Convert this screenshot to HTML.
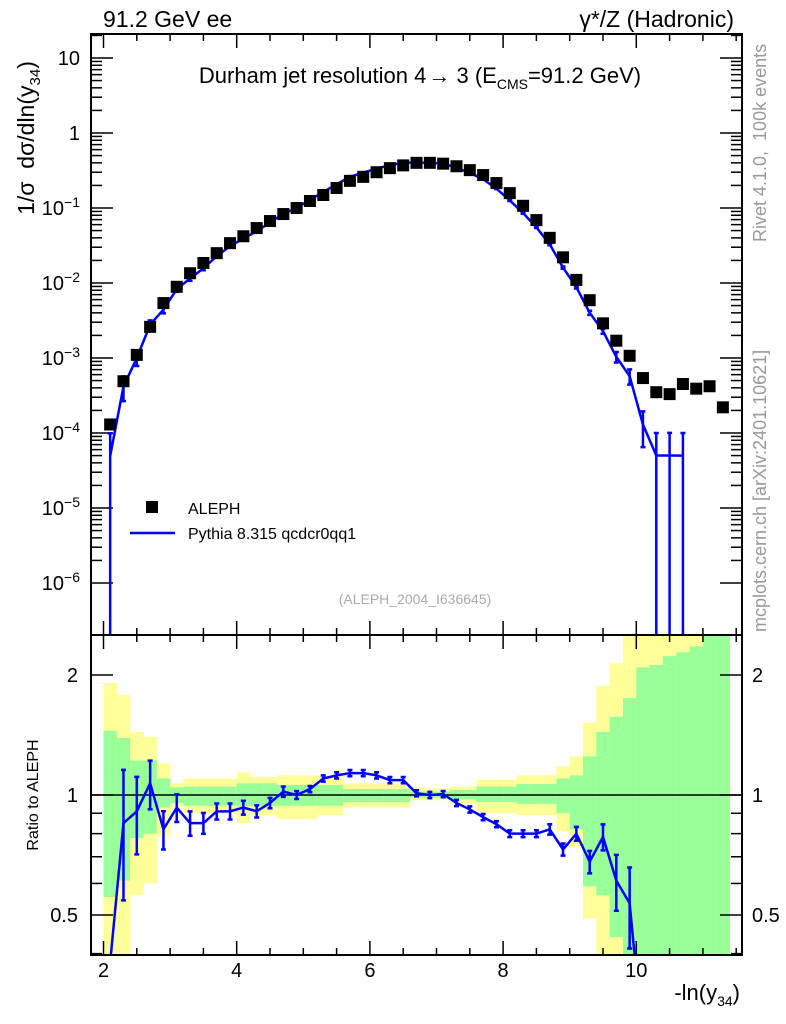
<!DOCTYPE html>
<html><head><meta charset="utf-8"><style>
html,body{margin:0;padding:0;background:#fff;overflow:hidden;width:786px;height:1024px;}
svg{display:block;font-family:"Liberation Sans",sans-serif;}
</style></head><body>
<svg id="chart" xmlns="http://www.w3.org/2000/svg" width="786" height="1024" viewBox="0 0 786 1024">
<defs>
<clipPath id="clipMain"><rect x="91" y="34" width="651" height="601"/></clipPath>
<clipPath id="clipRatio"><rect x="91" y="635" width="651" height="320"/></clipPath>
</defs>
<g id="bands" clip-path="url(#clipRatio)"></g>
<g id="grid"></g>
<g id="marks"></g>
<rect x="91" y="34" width="651" height="601" fill="none" stroke="#000" stroke-width="2"/>
<rect x="91" y="635" width="651" height="320" fill="none" stroke="#000" stroke-width="2"/>
<text x="103" y="27" font-size="23">91.2 GeV ee</text>
<text x="734" y="27" font-size="23" text-anchor="end">γ*/Z (Hadronic)</text>
<text x="420" y="83" font-size="22" text-anchor="middle">Durham jet resolution 4<tspan dx="2">→</tspan>  3 (E<tspan font-size="14" dy="6">CMS</tspan><tspan dy="-6">=91.2 GeV)</tspan></text>
<text transform="translate(34,138) rotate(-90)" font-size="23" text-anchor="middle" xml:space="preserve">1/σ  dσ/dln(y<tspan font-size="15" dy="6">34</tspan><tspan dy="-6">)</tspan></text>
<text transform="translate(38,795) rotate(-90)" font-size="16" text-anchor="middle">Ratio to ALEPH</text>
<text x="740" y="1000" font-size="22" text-anchor="end">-ln(y<tspan font-size="14" dy="6">34</tspan><tspan dy="-6">)</tspan></text>
<text transform="translate(766,242) rotate(-90)" font-size="18" fill="#999" xml:space="preserve">Rivet 4.1.0,  100k events</text>
<text transform="translate(766,632) rotate(-90)" font-size="18" fill="#999">mcplots.cern.ch [arXiv:2401.10621]</text>
<text x="415" y="604" font-size="14" fill="#aaa" text-anchor="middle">(ALEPH_2004_I636645)</text>
<g>
<rect x="146" y="501" width="12" height="12" fill="#000"/>
<text x="188" y="514" font-size="16">ALEPH</text>
<line x1="130" y1="533" x2="175" y2="533" stroke="#00f" stroke-width="2.5"/>
<text x="188" y="539" font-size="16">Pythia 8.315 qcdcr0qq1</text>
</g>
</svg>
<script>
const binCenters = [2.1,2.3,2.5,2.7,2.9,3.1,3.3,3.5,3.7,3.9,4.1,4.3,4.5,4.7,4.9,5.1,5.3,5.5,5.7,5.9,6.1,6.3,6.5,6.7,6.9,7.1,7.3,7.5,7.7,7.9,8.1,8.3,8.5,8.7,8.9,9.1,9.3,9.5,9.7,9.9,10.1,10.3,10.5,10.7,10.9,11.1,11.3];
const dataValues = [1.3e-4,4.9e-4,1.1e-3,2.6e-3,5.4e-3,8.9e-3,1.35e-2,1.85e-2,2.5e-2,3.4e-2,4.2e-2,5.4e-2,6.7e-2,8.3e-2,0.1,0.124,0.149,0.185,0.23,0.26,0.30,0.34,0.37,0.40,0.40,0.39,0.36,0.32,0.275,0.215,0.158,0.107,0.069,0.04,0.022,0.011,5.9e-3,2.9e-3,1.7e-3,1.07e-3,5.4e-4,3.5e-4,3.3e-4,4.5e-4,3.9e-4,4.2e-4,2.2e-4];
const mcRatio = [0.38,0.85,0.91,1.07,0.82,0.93,0.85,0.85,0.91,0.91,0.93,0.91,0.955,1.02,1.0,1.035,1.10,1.12,1.135,1.135,1.12,1.09,1.09,1.01,1.0,1.005,0.955,0.92,0.88,0.845,0.80,0.80,0.80,0.82,0.73,0.80,0.68,0.785,0.61,0.535,0.24,0.143,0.152,0.111,null,null,null];
const mcRelErr = [1.0,0.36,0.22,0.14,0.11,0.08,0.07,0.06,0.046,0.046,0.04,0.035,0.03,0.03,0.023,0.018,0.018,0.018,0.018,0.018,0.018,0.018,0.018,0.018,0.018,0.018,0.018,0.018,0.018,0.018,0.02,0.02,0.02,0.03,0.035,0.04,0.065,0.075,0.16,0.23,0.5,1,1,1,0,0,0];
const greenHi = [1.45,1.39,1.22,1.22,1.10,1.045,1.05,1.05,1.05,1.05,1.07,1.07,1.07,1.06,1.06,1.06,1.06,1.06,1.035,1.035,1.035,1.035,1.035,1.02,1.02,1.02,1.03,1.03,1.05,1.05,1.05,1.065,1.065,1.065,1.10,1.12,1.25,1.44,1.57,1.75,2.09,2.12,2.23,2.28,2.36,3,3];
const greenLo = [0.555,0.61,0.78,0.80,0.93,0.955,0.94,0.94,0.94,0.94,0.94,0.94,0.94,0.94,0.94,0.94,0.94,0.94,0.96,0.96,0.96,0.96,0.96,0.985,0.985,0.985,0.975,0.975,0.96,0.96,0.96,0.95,0.95,0.95,0.90,0.82,0.59,0.56,0.44,0.3,0.3,0.3,0.3,0.3,0.3,0.3,0.3];
const yellowHi = [1.91,1.78,1.44,1.40,1.20,1.07,1.10,1.10,1.10,1.10,1.14,1.11,1.11,1.12,1.12,1.12,1.12,1.12,1.07,1.07,1.07,1.07,1.07,1.04,1.04,1.04,1.05,1.05,1.09,1.09,1.09,1.12,1.12,1.12,1.18,1.25,1.52,1.88,2.14,3,3,3,3,3,3,3,3];
const yellowLo = [0.3,0.35,0.56,0.60,0.79,0.93,0.90,0.90,0.90,0.90,0.85,0.89,0.89,0.87,0.87,0.87,0.89,0.89,0.93,0.93,0.93,0.93,0.93,0.97,0.97,0.97,0.95,0.95,0.90,0.90,0.90,0.89,0.89,0.89,0.81,0.74,0.49,0.3,0.3,0.3,0.3,0.3,0.3,0.3,0.3,0.3,0.3];
const xTicks = [2,4,6,8,10];
const yDecades = [-6,-5,-4,-3,-2,-1,0,1];
const ratioTicks = [0.5,1,2];

const NS = "http://www.w3.org/2000/svg";
const X = v => 103.5 + (v - 2) * 66.6;
const Y = v => 133 - 75 * Math.log10(v);
const R = v => 795 - 120 * Math.log2(v);
const BW = 0.2;
const RMIN = 0.397, RMAX = 2.52;
function mk(tag, attrs, parent){const e=document.createElementNS(NS,tag);for(const k in attrs)e.setAttribute(k,attrs[k]);parent.appendChild(e);return e;}
const bandsG = document.getElementById('bands'), gridG = document.getElementById('grid'), marksG = document.getElementById('marks');

binCenters.forEach((c,i)=>{
  const x0=X(c-BW/2), w=X(c+BW/2)-x0+0.3;
  let r=mk('rect',{x:x0,y:R(yellowHi[i]),width:w,height:R(yellowLo[i])-R(yellowHi[i]),fill:'#ffff99'},bandsG);
  
  
  r=mk('rect',{x:x0,y:R(greenHi[i]),width:w,height:R(greenLo[i])-R(greenHi[i]),fill:'#99ff99'},bandsG);
  
  
});

for(let v=2;v<=11.5;v+=0.5){
  const major = Math.abs(v-Math.round(v/2)*2)<1e-6;
  const L = major?14:7;
  [[34,1],[635,-1],[635,1],[955,-1]].forEach(([y0,d])=>{
    const t=mk('line',{x1:X(v),x2:X(v),y1:y0,y2:y0+d*L,stroke:'#000','stroke-width':1.5},gridG);
    
    
  });
}
xTicks.forEach(v=>{
  const t=mk('text',{x:X(v),y:977,'font-size':20,'text-anchor':'middle'},gridG);
  t.textContent=v;
  
  
});
yDecades.forEach(d=>{
  for(let m=1;m<10;m++){
    const v=m*Math.pow(10,d); const y=Y(v);
    if(y<35||y>634) continue;
    const L=m===1?22:11;
    [[91,1],[742,-1]].forEach(([x0,s])=>{
      const t=mk('line',{x1:x0,x2:x0+s*L,y1:y,y2:y,stroke:'#000','stroke-width':1.5},gridG);
      
      
    });
  }
  const t=mk('text',{x:80,y:Y(Math.pow(10,d))+7,'font-size':20,'text-anchor':'end'},gridG);
  if(d===0) t.textContent='1'; else if(d===1) t.textContent='10';
  else { t.textContent='10'; const s=mk('tspan',{dy:-8,'font-size':14},t); s.textContent='−'+(-d); }
  
  
});
[0.4,0.5,0.6,0.7,0.8,0.9,1,2].forEach(v=>{
  const major=ratioTicks.includes(v); const L=major?22:11;
  [[91,1],[742,-1]].forEach(([x0,s])=>{
    const t=mk('line',{x1:x0,x2:x0+s*L,y1:R(v),y2:R(v),stroke:'#000','stroke-width':1.5},gridG);
    
    
  });
});
ratioTicks.forEach(v=>{
  [[78,'end'],[752,'start']].forEach(([x,a])=>{
    const t=mk('text',{x:x,y:R(v)+7,'font-size':20,'text-anchor':a},gridG);
    t.textContent=v;
    
    
  });
});
const one=mk('line',{x1:91,x2:742,y1:R(1),y2:R(1),stroke:'#000','stroke-width':1.5},gridG);



const mainClip=mk('g',{'clip-path':'url(#clipMain)'},marksG);
const ratioClip=mk('g',{'clip-path':'url(#clipRatio)'},marksG);
let pts=[], rpts=[];
binCenters.forEach((c,i)=>{
  if(mcRatio[i]==null) return;
  const m=dataValues[i]*mcRatio[i];
  pts.push(X(c)+','+Y(m));
  rpts.push(X(c)+','+R(mcRatio[i]));
  const e=mcRelErr[i];
  const hi=m*(1+e), lo=m*(1-e);
  const yl=lo>0?Y(lo):700, yh=Y(hi);
  let b=mk('path',{d:`M${X(c)},${yh}V${yl}M${X(c)-2.5},${yh}H${X(c)+2.5}M${X(c)-2.5},${yl}H${X(c)+2.5}`,stroke:'#00f','stroke-width':2.5,fill:'none'},mainClip);
  
  
  const rv=mcRatio[i];
  if(rv>=RMIN && rv<=RMAX){
    const rh=R(rv*(1+e)), rl=rv*(1-e)>0?R(rv*(1-e)):1000;
    b=mk('path',{d:`M${X(c)},${rh}V${rl}M${X(c)-2.5},${rh}H${X(c)+2.5}M${X(c)-2.5},${rl}H${X(c)+2.5}`,stroke:'#00f','stroke-width':2.5,fill:'none'},ratioClip);
    
    
  }
});
let l=mk('polyline',{points:pts.join(' '),fill:'none',stroke:'#00f','stroke-width':2.5},mainClip);


l=mk('polyline',{points:rpts.join(' '),fill:'none',stroke:'#00f','stroke-width':2.5},ratioClip);


binCenters.forEach((c,i)=>{
  const r=mk('rect',{x:X(c)-6,y:Y(dataValues[i])-6,width:12,height:12,fill:'#000'},mainClip);
  
  
});
</script>
</body></html>
